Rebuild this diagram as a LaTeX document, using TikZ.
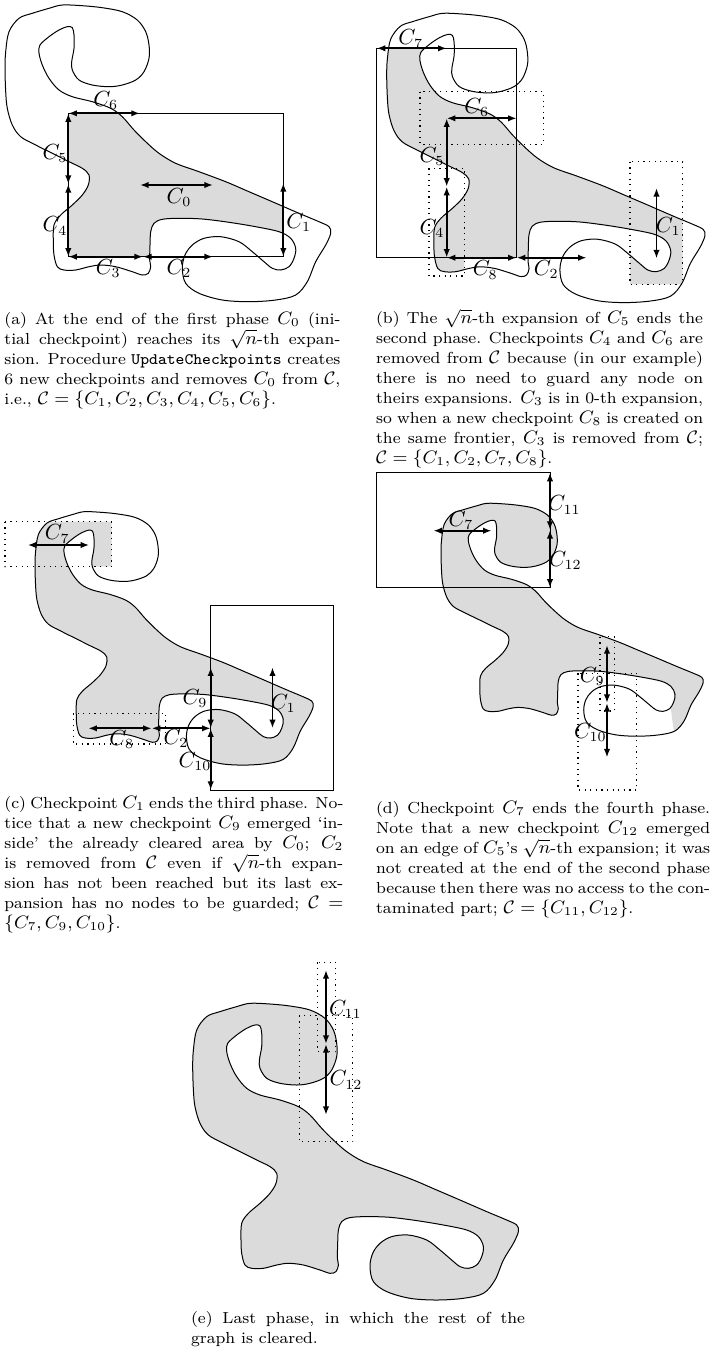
\documentclass[tikz,border=0pt]{standalone}
\usepackage{graphicx}
\usetikzlibrary{arrows.meta}
\DeclareMathSizes{8}{9}{6}{5}

% caption helpers
\newcommand{\capsx}{1.04}
\newlength{\capw}
\newcommand{\jl}[1]{\makebox[\capw][s]{#1}}
\newcommand{\el}[1]{\makebox[\capw][l]{#1}}
\newcommand{\capblock}[2]{%
  \pgfmathsetlength{\capw}{#1*0.5pt/\capsx}%
  \scalebox{\capsx}[1]{\parbox[t]{\capw}{\fontsize{8pt}{10pt}\selectfont #2}}}
\newcommand{\lblsize}{\fontsize{10.5pt}{12pt}\selectfont}

% the graph outline, in its own coordinates
\newcommand{\blobpath}{plot[smooth cycle,tension=0.55] coordinates {
  (0.7,46.7) (4,26.7) (14,13.3) (27.3,8.3) (44,3.3) (57.3,0) (77.3,0.7) (97.3,2.7)
  (117.3,6.7) (132.3,15) (140.7,26.7) (144,40) (144,53.3) (139,66.7) (130.7,75)
  (117.3,80) (104,81.7) (87.3,80) (74,75) (67.3,65) (66.7,56.7) (69,43.3) (69,30)
  (67.3,22.7) (62.3,21.7) (54,25) (44,31.7) (35,40) (34,48) (37.3,60) (44,73.3)
  (54,85) (67.3,91.7) (87.3,96.7) (105.7,103.3) (117.3,111.7) (129,125) (140.7,136.7)
  (154,148.3) (170.7,158.3) (194,166.7) (220.7,176.7) (244,186.7) (267.3,196.7)
  (294,208.3) (314,216.7) (324,221.7) (325.7,228.3) (320.7,240) (310.7,256.7)
  (302.3,276.7) (290.7,290) (270.7,295) (244,296.7) (217.3,295) (194,288.3)
  (180.7,278.3) (177.3,263.3) (180,250) (187.3,240) (199,233.3) (215.7,231.7)
  (234,236.7) (247.3,246.7) (259,256.7) (267.3,263.3) (275.7,265) (284,261.7)
  (289,253.3) (290.7,243.3) (285.7,233.3) (274,226.7) (250.7,221.7) (224,217.3)
  (197.3,214) (174,213.3) (157.3,214.3) (149,218.3) (145.7,226.7) (145,240)
  (144.7,255) (145.7,261.7) (143.3,268.3) (137.3,270) (127.3,266.7) (110.7,261.7)
  (95.7,260) (84,261.7) (70.7,265) (59,265) (52.3,261.7) (49,250) (48.3,236.7)
  (49,220) (55.7,210) (67.3,200) (77.3,190) (83.3,180) (84,170) (77.3,163.3)
  (64,156.7) (47.3,148.3) (30.7,140) (15.7,131.7) (7.3,120) (2.3,103.3) (0.7,86.7)
  (0,63.3)}}

% points inside the notch and the tongue (outside the graph)
\newcommand{\gaps}[1]{%
  \coordinate (#1n1) at (160,300); \coordinate (#1n2) at (165,240);
  \coordinate (#1n3) at (185,228); \coordinate (#1n4) at (200,224);
  \coordinate (#1n5) at (225,226); \coordinate (#1n6) at (250,235);
  \coordinate (#1n7) at (270,245); \coordinate (#1n8) at (284,250);
  \coordinate (#1z) at (292,312);
  \coordinate (#1t1) at (55,33); \coordinate (#1t2) at (51,50);
  \coordinate (#1t3) at (57,75); \coordinate (#1t4) at (75,86);
  \coordinate (#1t5) at (100,90); \coordinate (#1t6) at (125,96);
  \coordinate (#1t7) at (150,95);}

\begin{document}
\begin{tikzpicture}[
    x=0.5pt, y=-0.5pt,
    blob/.style={line width=0.5pt},
    cleared/.style={fill=black!14},
    frontier/.style={line width=0.45pt},
    expbox/.style={line width=0.6pt, dash pattern=on 0.6pt off 2.2pt},
    chk/.style={<->, >={Latex[length=4.3pt,width=3.2pt]}, line width=0.9pt},
    lbl/.style={inner sep=0pt, font=\lblsize},
    capt/.style={inner sep=0pt, anchor=base west},
    pa/.style={shift={(5,5)}},
    pb/.style={shift={(386.7,13.3)}, xscale=0.977, yscale=0.975},
    pc/.style={shift={(35,511.7)}, scale=0.854},
    pd/.style={shift={(441,503.3)}, xscale=0.805, yscale=0.785},
    pe/.style={shift={(192.7,1003.3)}}
  ]
  \useasboundingbox (0,0) rectangle (710,1351);
  \coordinate (bot) at (0,800);

  % ---------------- (a)
  \begin{scope}[pa] \gaps{a} \end{scope}
  \coordinate (a1) at (68.3,113.3);  \coordinate (a2) at (283.3,113.3);
  \coordinate (a3) at (283.3,256.7); \coordinate (a4) at (68.3,256.7);
  \coordinate (a6) at (140,113.3);   \coordinate (a45) at (68.3,184);
  \coordinate (a32) at (143,256.7);  \coordinate (a2e) at (213,256.7);
  \coordinate (a1t) at (283.3,183);
  \coordinate (a0l) at (140,185);    \coordinate (a0r) at (213,185);
  \begin{scope}
    \clip (a1) -- (a2) -- (283.3,250) -- (an7) -- (an6) -- (an5) -- (an4)
      -- (an3) -- (an2) -- (an2 |- a4) -- (a4) -- cycle;
    \fill[cleared, pa] \blobpath;
  \end{scope}
  \draw[blob, pa] \blobpath;
  \draw[frontier] (a1) rectangle (a3);
  \draw[chk] (a1) -- (a6);
  \draw[chk] (a1) -- (a45);
  \draw[chk] (a45) -- (a4);
  \draw[chk] (a4) -- (a32);
  \draw[chk] (a32) -- (a2e);
  \draw[chk] (a1t) -- (a3);
  \draw[chk] (a0l) -- (a0r);
  \node[lbl] (la6) at (105.7,100.7) {$C_6$};
  \node[lbl] (la5) at (55,153.3) {$C_5$};
  \node[lbl] (la4) at (55,226) {$C_4$};
  \node[lbl] (la3) at (108.3,268.3) {$C_3$};
  \node[lbl] (la2) at (179,268.3) {$C_2$};
  \node[lbl] (la1) at (298.7,222.7) {$C_1$};
  \node[lbl] (la0) at (179,197.3) {$C_0$};

  % ---------------- (b)
  \begin{scope}[pb] \gaps{b} \end{scope}
  \coordinate (b1) at (376.7,48.3);  \coordinate (b2) at (516.7,48.3);
  \coordinate (b3) at (516.7,257.7); \coordinate (b4) at (376.7,257.7);
  \coordinate (b7) at (446.7,48.3);  \coordinate (b56) at (446.7,118.3);
  \coordinate (b6e) at (516.7,118.3); \coordinate (b54) at (446.7,186.7);
  \coordinate (b48) at (446.7,257.7); \coordinate (b2e) at (586.7,257.7);
  \coordinate (b1t) at (656.5,188);   \coordinate (b1b) at (656.5,258.5);
  \coordinate (bx) at (630,284.3);
  \begin{scope}
    \clip (b1) -- (bt1 |- b1) -- (bt2) -- (bt3) -- (bt4) -- (bt5) -- (bt6) -- (bt7)
      -- (682.7,150) -- (682.7,284.3) -- (bx) -- (bx |- bn6) -- (bn5)
      -- (bn4) -- (bn3) -- (bn2) -- (bn2 |- b4) -- (464.3,257.7) -- (464.3,276)
      -- (429,276) -- (429,257.7) -- (b4) -- cycle;
    \fill[cleared, pb] \blobpath;
  \end{scope}
  \draw[blob, pb] \blobpath;
  \draw[frontier] (b1) rectangle (b3);
  \draw[expbox] (420,91.7) rectangle (543.3,144.3);
  \draw[expbox] (429,168.3) rectangle (464.3,276);
  \draw[expbox] (630,161.7) rectangle (682.7,284.3);
  \draw[chk] (b1) -- (b7);
  \draw[chk] (b56) -- (b6e);
  \draw[chk] (b56) -- (b54);
  \draw[chk] (b54) -- (b48);
  \draw[chk] (b48) -- (b3);
  \draw[chk] (b3) -- (b2e);
  \draw[chk] (b1t) -- (b1b);
  \node[lbl] (lb7) at (410.7,39) {$C_7$};
  \node[lbl] (lb6) at (476.7,107.3) {$C_6$};
  \node[lbl] (lb5) at (432,156.7) {$C_5$};
  \node[lbl] (lb4) at (432,228.3) {$C_4$};
  \node[lbl] (lb8) at (485.3,270) {$C_8$};
  \node[lbl] (lb2) at (546.3,269.3) {$C_2$};
  \node[lbl] (lb1) at (668.3,226.7) {$C_1$};

  % ---------------- (c)
  \begin{scope}[pc] \gaps{c} \end{scope}
  \coordinate (c1) at (210.7,605.7); \coordinate (c3) at (333.3,790);
  \coordinate (c4) at (210.7,790);   \coordinate (c9) at (210.7,667.3);
  \coordinate (c90) at (210.7,728.3); \coordinate (c8) at (88.3,728.3);
  \coordinate (c82) at (151.7,728.3);
  \coordinate (c7l) at (27.7,545);   \coordinate (c7r) at (89.3,545);
  \coordinate (c1t) at (272.5,667.3); \coordinate (c1b) at (272.5,728.3);
  \begin{scope}
    \clip (-20,521.7) -- (111.7,521.7) -- (111.7,566.7) -- (79.4,566.7) -- (ct3)
      -- (ct4) -- (ct5) -- (ct6) -- (ct7) -- (360,560) -- (360,800) -- (210.7,800)
      -- (210.7,703.4) -- (cn3) -- (cn2) -- (cn1) -- (cn1 |- bot) -- (-20,800) -- cycle;
    \fill[cleared, pc] \blobpath;
  \end{scope}
  \draw[blob, pc] \blobpath;
  \draw[frontier] (c1) rectangle (c3);
  \draw[expbox] (5,521.7) rectangle (111.7,566.7);
  \draw[expbox] (73.3,713.3) rectangle (165.7,744);
  \draw[chk] (c7l) -- (c7r);
  \draw[chk] (c8) -- (c82);
  \draw[chk] (c82) -- (c90);
  \draw[chk] (c9) -- (c90);
  \draw[chk] (c90) -- (c4);
  \draw[chk] (c1t) -- (c1b);
  \node[lbl] (lc7) at (57.3,534) {$C_7$};
  \node[lbl] (lc9) at (195,698.3) {$C_9$};
  \node[lbl] (lc1) at (283.3,703.3) {$C_1$};
  \node[lbl] (lc8) at (121.7,739.3) {$C_8$};
  \node[lbl] (lc2) at (176,738.3) {$C_2$};
  \node[lbl] (lc10) at (195,761.7) {$C_{10}$};

  % ---------------- (d)
  \begin{scope}[pd] \gaps{d} \end{scope}
  \coordinate (d1) at (376,472.7);   \coordinate (d3) at (550,587.7);
  \coordinate (d11) at (550,472.7);  \coordinate (d1112) at (550,530);
  \coordinate (d7l) at (433.3,530.7); \coordinate (d7r) at (491.7,530.7);
  \coordinate (d9) at (607,645);     \coordinate (d910) at (607,703);
  \coordinate (d10) at (607,757.5);
  \begin{scope}
    \clip (360,460) -- (720,460) -- (720,800) -- (dz) -- (dn8) -- (dn7) -- (dn6)
      -- (dn5) -- (dn4) -- (dn3) -- (dn2) -- (dn1) -- (dn1 |- bot) -- (360,800) -- cycle;
    \fill[cleared, pd] \blobpath;
  \end{scope}
  \draw[blob, pd] \blobpath;
  \draw[frontier] (d1) rectangle (d3);
  \draw[expbox] (600,636.7) rectangle (614.3,711);
  \draw[expbox] (578,673.3) rectangle (636.7,790);
  \draw[chk] (d11) -- (d1112);
  \draw[chk] (d1112) -- (d3);
  \draw[chk] (d7l) -- (d7r);
  \draw[chk] (d9) -- (d910);
  \draw[chk] (d910) -- (d10);
  \node[lbl] (ld11) at (564.3,505) {$C_{11}$};
  \node[lbl] (ld12) at (565.3,560.7) {$C_{12}$};
  \node[lbl] (ld7) at (461,520.7) {$C_7$};
  \node[lbl] (ld9) at (592.3,676.7) {$C_9$};
  \node[lbl] (ld10) at (590.3,732.7) {$C_{10}$};

  % ---------------- (e)
  \coordinate (e11) at (326,970); \coordinate (e1112) at (326,1044);
  \coordinate (e12) at (326,1115);
  \fill[cleared, pe] \blobpath;
  \draw[blob, pe] \blobpath;
  \draw[expbox] (317.7,962.3) rectangle (335.7,1051.7);
  \draw[expbox] (299.3,1015.7) rectangle (352.7,1141.7);
  \draw[chk] (e11) -- (e1112);
  \draw[chk] (e1112) -- (e12);
  \node[lbl] (le11) at (345.3,1009.3) {$C_{11}$};
  \node[lbl] (le12) at (346,1080) {$C_{12}$};

  % ---------------- captions
  \node[capt] (capa) at (4,324) {\capblock{336}{%
    \jl{(a) At the end of the first phase $C_0$ (ini-}\\
    \jl{tial checkpoint) reaches its $\sqrt{n}$-th expan-}\\
    \jl{sion. Procedure \texttt{UpdateCheckpoints} creates}\\
    \jl{6 new checkpoints and removes $C_0$ from $\mathcal{C}$,}\\
    \el{i.e., $\mathcal{C}=\{C_1,C_2,C_3,C_4,C_5,C_6\}$.}}};
  \node[capt] (capb) at (375.7,323.3) {\capblock{327}{%
    \jl{(b) The $\sqrt{n}$-th expansion of $C_5$ ends the}\\
    \jl{second phase. Checkpoints $C_4$ and $C_6$ are}\\
    \jl{removed from $\mathcal{C}$ because (in our example)}\\
    \jl{there is no need to guard any node on}\\
    \jl{theirs expansions. $C_3$ is in 0-th expansion,}\\
    \jl{so when a new checkpoint $C_8$ is created on}\\
    \jl{the same frontier, $C_3$ is removed from $\mathcal{C}$;}\\
    \el{$\mathcal{C}=\{C_1,C_2,C_7,C_8\}$.}}};
  \node[capt] (capc) at (4,808.3) {\capblock{339}{%
    \jl{(c) Checkpoint $C_1$ ends the third phase. No-}\\
    \jl{tice that a new checkpoint $C_9$ emerged `in-}\\
    \jl{side' the already cleared area by $C_0$; $C_2$}\\
    \jl{is removed from $\mathcal{C}$ even if $\sqrt{n}$-th expan-}\\
    \jl{sion has not been reached but its last ex-}\\
    \jl{pansion has no nodes to be guarded; $\mathcal{C}=$}\\
    \el{$\{C_7,C_9,C_{10}\}$.}}};
  \node[capt] (capd) at (375.7,813.3) {\capblock{334}{%
    \jl{(d) Checkpoint $C_7$ ends the fourth phase.}\\
    \jl{Note that a new checkpoint $C_{12}$ emerged}\\
    \jl{on an edge of $C_5$'s $\sqrt{n}$-th expansion; it was}\\
    \jl{not created at the end of the second phase}\\
    \jl{because then there was no access to the con-}\\
    \el{taminated part; $\mathcal{C}=\{C_{11},C_{12}\}$.}}};
  \node[capt] (cape) at (190.7,1323.3) {\capblock{334}{%
    \jl{(e) Last phase, in which the rest of the}\\
    \el{graph is cleared.}}};
\end{tikzpicture}
\end{document}
